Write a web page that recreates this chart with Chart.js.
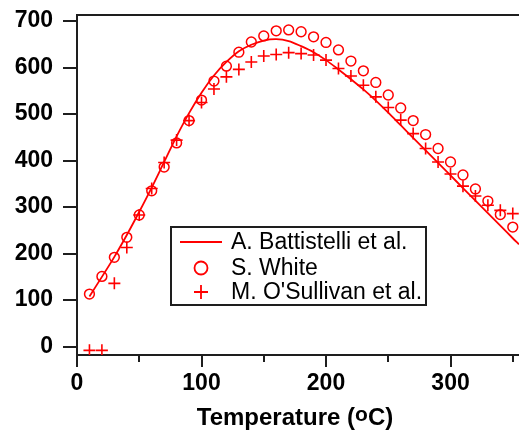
<!DOCTYPE html>
<html>
<head>
<meta charset="utf-8">
<script src="https://cdn.jsdelivr.net/npm/chart.js@4.4.1/dist/chart.umd.min.js"></script>
<style>
  html, body { margin: 0; padding: 0; background: #fff; }
  canvas { display: block; }
</style>
</head>
<body>
<canvas id="chart" width="519" height="434"></canvas>
<script>
// Battistelli et al. fitted curve
const fitTemps = [10, 20, 30, 40, 50, 60, 70, 80, 90, 100, 110, 120, 130, 140, 150, 160, 170, 180,
  190, 200, 210, 220, 230, 240, 250, 260, 270, 280, 290, 300, 310, 320, 330, 340, 350, 355];
const fitValues = [108, 150, 193, 240, 290, 342, 397, 452, 502, 546, 583, 612, 635, 649, 658, 661, 657, 646,
  633, 616, 596, 575, 553, 529, 503, 476, 449, 422, 395, 368, 341, 314, 287, 260, 233, 220];

// S. White
const whiteTemps = [10, 20, 30, 40, 50, 60, 70, 80, 90, 100, 110, 120, 130, 140, 150, 160, 170, 180,
  190, 200, 210, 220, 230, 240, 250, 260, 270, 280, 290, 300, 310, 320, 330, 340, 350];
const whiteValues = [113, 151, 192, 235, 283, 335, 386, 438, 486, 530, 571, 603, 633, 655, 668, 679, 681, 677,
  666, 654, 638, 614, 593, 568, 541, 513, 486, 456, 426, 397, 369, 339, 313, 284, 257];

// M. O'Sullivan et al.
const osTemps = [10, 20, 30, 40, 50, 60, 70, 80, 90, 100, 110, 120, 130, 140, 150, 160, 170, 180,
  190, 200, 210, 220, 230, 240, 250, 260, 270, 280, 290, 300, 310, 320, 330, 340, 350];
const osValues = [-8, -8, 136, 213, 283, 340, 396, 444, 486, 525, 554, 580, 596, 612, 625, 628, 632, 630,
  627, 616, 598, 582, 562, 537, 514, 487, 458, 426, 397, 371, 345, 324, 304, 293, 286];

const minorXTicks = [50, 150, 250, 350];

const RED = '#ff0000';
const AXIS = '#1e1e1e';
const FONT = "'Liberation Sans', Arial, sans-serif";

const toPoints = (xs, ys) => xs.map((x, i) => ({ x, y: ys[i] }));

// keep the plot area fixed: no extra room for overhanging tick labels
const fixScale = size => s => {
  if (s.isHorizontal()) s.height = size; else s.width = size;
  s.paddingTop = s.paddingBottom = s.paddingLeft = s.paddingRight = 0;
};

// top frame line, minor ticks on the x axis
const frame = {
  id: 'frame',
  afterDraw(chart) {
    const { ctx, chartArea: a, scales: { x } } = chart;
    ctx.save();
    ctx.strokeStyle = AXIS;
    ctx.lineWidth = 2;
    ctx.beginPath();
    ctx.moveTo(a.left - 1, a.top);
    ctx.lineTo(a.right, a.top);
    minorXTicks.forEach(v => {
      const px = Math.round(x.getPixelForValue(v));
      ctx.moveTo(px, a.bottom);
      ctx.lineTo(px, a.bottom + 7);
    });
    ctx.stroke();
    ctx.restore();
  }
};

// x title with raised degree "o"
const xTitle = {
  id: 'xTitle',
  afterDraw(chart) {
    const { ctx, chartArea: a } = chart;
    const big = `bold 24px ${FONT}`;
    const small = `bold 21px ${FONT}`;
    const parts = [['Temperature (', big, 0], ['o', small, -4], ['C)', big, 0]];
    ctx.save();
    ctx.fillStyle = '#000';
    ctx.textBaseline = 'alphabetic';
    ctx.textAlign = 'left';
    let total = 0;
    parts.forEach(p => { ctx.font = p[1]; total += ctx.measureText(p[0]).width; });
    let cx = (a.left + a.right) / 2 - 3 - total / 2;
    const base = 425;
    parts.forEach(p => {
      ctx.font = p[1];
      ctx.fillText(p[0], cx, base + p[2]);
      cx += ctx.measureText(p[0]).width;
    });
    ctx.restore();
  }
};

// boxed legend inside the plot
const boxLegend = {
  id: 'boxLegend',
  afterDraw(chart) {
    const { ctx, chartArea: a } = chart;
    const left = a.left + 94, top = a.top + 212, w = 255, h = 78;
    ctx.save();
    ctx.fillStyle = '#fff';
    ctx.fillRect(left, top, w, h);
    ctx.strokeStyle = AXIS;
    ctx.lineWidth = 2;
    ctx.strokeRect(left, top, w, h);
    ctx.font = `23px ${FONT}`;
    ctx.textBaseline = 'middle';
    ctx.fillStyle = '#000';
    const rows = [15, 41, 65];
    chart.data.datasets.forEach((ds, i) => {
      const y = top + rows[i];
      const sx = left + 30;
      ctx.strokeStyle = RED;
      ctx.lineWidth = 1.8;
      ctx.beginPath();
      if (ds.showLine) {
        ctx.moveTo(left + 9, y);
        ctx.lineTo(left + 51, y);
      } else if (ds.pointStyle === 'circle') {
        ctx.arc(sx, y, 6.5, 0, Math.PI * 2);
      } else {
        ctx.moveTo(sx - 7, y); ctx.lineTo(sx + 7, y);
        ctx.moveTo(sx, y - 7); ctx.lineTo(sx, y + 7);
      }
      ctx.stroke();
      ctx.fillText(ds.label, left + 60, y + 1);
    });
    ctx.restore();
  }
};

new Chart(document.getElementById('chart'), {
  type: 'scatter',
  data: {
    datasets: [
      {
        label: 'A. Battistelli et al.',
        data: toPoints(fitTemps, fitValues),
        showLine: true,
        borderColor: RED,
        borderWidth: 1.8,
        pointRadius: 0,
        tension: 0.3,
        fill: false
      },
      {
        label: 'S. White',
        data: toPoints(whiteTemps, whiteValues),
        showLine: false,
        pointStyle: 'circle',
        pointRadius: 4.9,
        borderColor: RED,
        backgroundColor: 'rgba(0,0,0,0)',
        borderWidth: 1.5
      },
      {
        label: "M. O'Sullivan et al.",
        data: toPoints(osTemps, osValues),
        showLine: false,
        pointStyle: 'cross',
        pointRadius: 6,
        borderColor: RED,
        borderWidth: 1.6
      }
    ]
  },
  options: {
    responsive: false,
    animation: false,
    events: [],
    layout: { autoPadding: false, padding: { top: 15, right: 0, bottom: 0, left: 0 } },
    plugins: {
      legend: { display: false },
      tooltip: { enabled: false }
    },
    scales: {
      x: {
        type: 'linear',
        min: 0,
        max: 355,
        afterFit: fixScale(79),
        ticks: {
          stepSize: 100,
          includeBounds: false,
          padding: 3,
          color: '#000',
          font: { family: FONT, size: 23, weight: 'bold' },
          maxRotation: 0
        },
        grid: { drawOnChartArea: false, tickLength: 12, color: AXIS, lineWidth: 2 },
        border: { color: AXIS, width: 2 }
      },
      y: {
        type: 'linear',
        min: -18,
        max: 713,
        afterFit: fixScale(77),
        ticks: {
          stepSize: 100,
          includeBounds: false,
          padding: 10,
          color: '#000',
          font: { family: FONT, size: 23, weight: 'bold' }
        },
        grid: { drawOnChartArea: false, tickLength: 14, color: AXIS, lineWidth: 2 },
        border: { color: AXIS, width: 2 }
      }
    }
  },
  plugins: [frame, xTitle, boxLegend]
});
</script>
</body>
</html>
